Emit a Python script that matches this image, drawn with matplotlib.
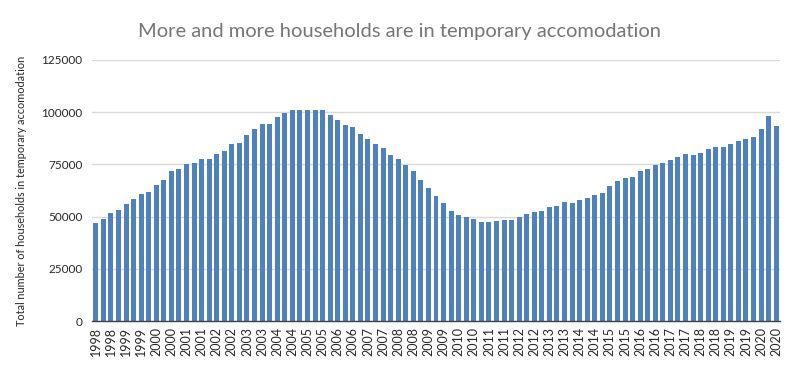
"""Bar chart of households in temporary accommodation, quarterly 1998-2020."""

import matplotlib

matplotlib.use("Agg")
import matplotlib.pyplot as plt
import numpy as np

# quarterly values, 1998 Q1 .. 2020 Q3
households = [
    47100, 49000, 51900, 53400, 56250, 58200, 61050, 62000,  # 1998-1999
    64900, 67500, 71800, 72750, 75000, 75650, 77400, 77400,  # 2000-2001
    79800, 81250, 84600, 85100, 89000, 91850, 94250, 94250,  # 2002-2003
    97600, 99550, 100950, 100950, 100950, 100950, 100950, 98570,  # 2004-2005
    96170, 93760, 92800, 89440, 87030, 84630, 82700, 79330,  # 2006-2007
    77400, 74520, 71630, 67300, 63460, 60100, 56730, 52890,  # 2008-2009
    50960, 50000, 49040, 47600, 47600, 48080, 48560, 48560,  # 2010-2011
    50000, 51440, 52400, 52890, 54810, 55300, 57200, 56730,  # 2012-2013
    58180, 59140, 60580, 61540, 64430, 66830, 68280, 68760,  # 2014-2015
    71640, 72600, 74520, 75480, 76930, 78370, 79810, 79330,  # 2016-2017
    80290, 82220, 83180, 83180, 84620, 86070, 87030, 87990,  # 2018-2019
    91840, 98090, 93280,  # 2020
]
years = [str(1998 + i // 4) for i in range(len(households))]
# every second bar is labelled, like the original spreadsheet chart
label_step = 2
y_ticks = [0, 25000, 50000, 75000, 100000, 125000]

bar_color = "#4F81BD"
grid_color = "#D9D9D9"
text_color = "#595959"

plt.rcParams["font.family"] = ["Lato", "DejaVu Sans"]

fig = plt.figure(figsize=(7.99, 3.71), dpi=100)
ax = fig.add_axes([92 / 799, 1 - 321 / 371, (780 - 92) / 799, (321 - 60) / 371])

x = np.arange(len(households))
ax.bar(x, households, width=0.66, color=bar_color, zorder=2)

ax.set_xlim(-0.5, len(households) - 0.5)
ax.set_ylim(0, 125000)
ax.set_yticks(y_ticks)
ax.set_yticklabels([str(v) for v in y_ticks], fontsize=8.5, color="#262626")
ax.yaxis.grid(True, color=grid_color, linewidth=1, zorder=0)
ax.tick_params(axis="y", length=0, pad=7)

ax.set_xticks(x[::label_step])
ax.set_xticklabels(years[::label_step], rotation=90, fontsize=9, color="#262626")
ax.tick_params(axis="x", length=0, pad=4)

for side in ("top", "right", "left"):
    ax.spines[side].set_visible(False)
ax.spines["bottom"].set_color("#404040")
ax.spines["bottom"].set_linewidth(1)

ax.set_ylabel(
    "Total number of households in temporary accomodation",
    fontsize=7.8,
    color="#262626",
    labelpad=10,
)
fig.text(
    400 / 799,
    1 - 31 / 371,
    "More and more households are in temporary accomodation",
    ha="center",
    va="center",
    fontsize=14.5,
    color="#767676",
)

fig.savefig("out.png", dpi=100)
